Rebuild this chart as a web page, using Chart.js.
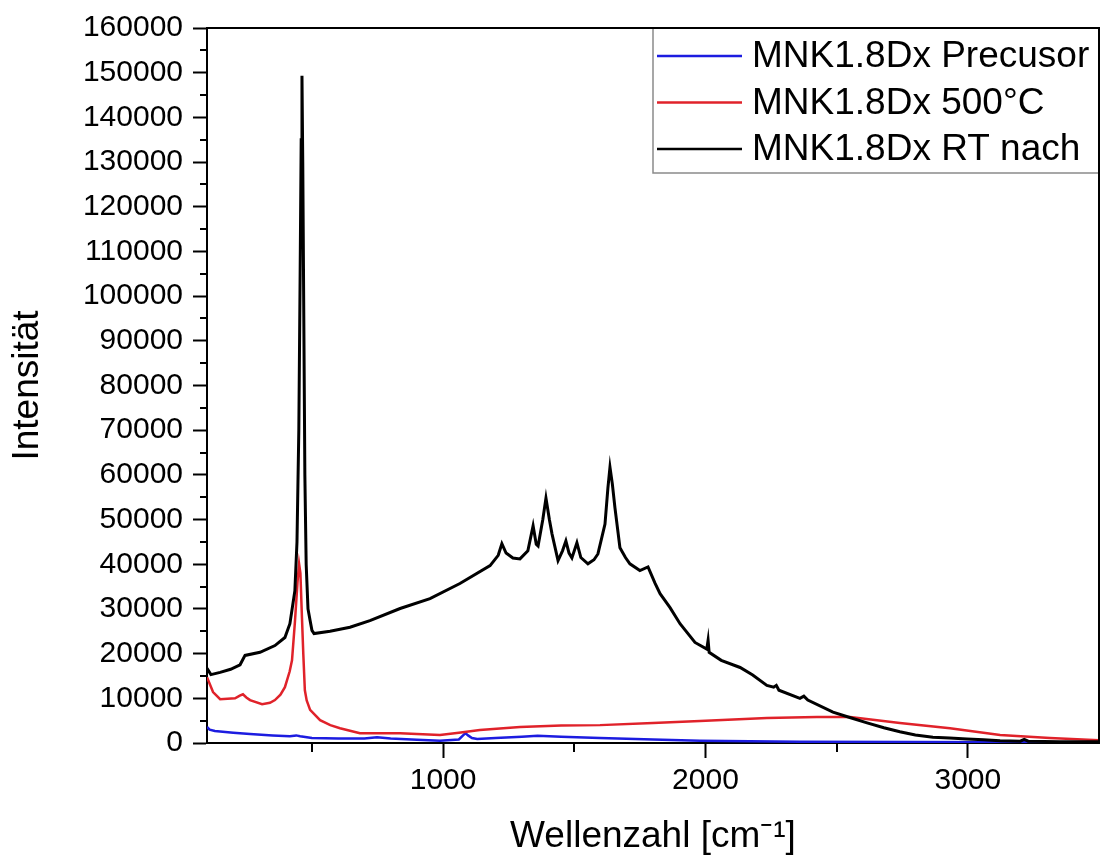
<!DOCTYPE html>
<html>
<head>
<meta charset="utf-8">
<script src="https://cdn.jsdelivr.net/npm/chart.js@4.4.1/dist/chart.umd.min.js"></script>
<style>
  html, body { margin: 0; padding: 0; background: #fff; }
</style>
</head>
<body>
<canvas id="myChart" width="1101" height="861"></canvas>
<script>
// Raman spectra
const seriesNames = ['MNK1.8Dx Precusor', 'MNK1.8Dx 500°C', 'MNK1.8Dx RT nach'];

const precursorX = [100, 110, 130, 200, 264, 350, 416, 440, 455, 500, 600, 700, 748, 800, 900, 988, 1060, 1085, 1095, 1110, 1130, 1200, 1300, 1360, 1450, 1598, 1800, 1979, 2360, 2800, 3200, 3500];
const precursorY = [3600, 3000, 2700, 2300, 2000, 1700, 1500, 1700, 1500, 1100, 1000, 1000, 1300, 1000, 700, 500, 800, 2200, 1700, 1100, 900, 1100, 1400, 1600, 1400, 1100, 800, 500, 300, 200, 150, 100];

const hotX = [100, 123, 150, 207, 225, 237, 250, 264, 310, 340, 359, 380, 397, 415, 424, 435, 445, 451, 456, 462, 467, 473, 480, 493, 531, 570, 607, 683, 836, 900, 988, 1060, 1140, 1293, 1450, 1598, 1800, 1979, 2234, 2425, 2551, 2741, 2932, 3123, 3313, 3500];
const hotY = [14700, 11400, 9800, 10000, 10600, 10900, 10200, 9600, 8700, 9000, 9600, 10800, 12500, 16000, 18500, 27000, 36000, 40100, 38000, 28000, 20000, 11800, 9500, 7400, 5100, 4000, 3300, 2200, 2200, 2000, 1800, 2300, 2900, 3600, 3900, 4000, 4500, 4900, 5600, 5800, 5800, 4500, 3300, 1800, 1100, 600];

const rtX = [100, 115, 150, 190, 226, 245, 302, 359, 397, 416, 435, 443, 450, 455, 459, 462, 465, 469, 473, 478, 485, 493, 500, 508, 569, 645, 721, 836, 950, 1064, 1179, 1210, 1224, 1240, 1266, 1293, 1323, 1343, 1355, 1362, 1380, 1392, 1405, 1415, 1438, 1455, 1468, 1480, 1491, 1510, 1525, 1552, 1575, 1590, 1605, 1617, 1628, 1636, 1645, 1655, 1674, 1695, 1712, 1750, 1781, 1808, 1827, 1865, 1903, 1960, 2005, 2010, 2014, 2060, 2132, 2180, 2234, 2260, 2270, 2280, 2360, 2375, 2390, 2486, 2550, 2616, 2680, 2741, 2800, 2867, 2930, 2997, 3060, 3123, 3200, 3215, 3230, 3350, 3500];
const rtY = [16700, 15300, 15800, 16500, 17500, 19600, 20300, 21800, 23600, 26700, 34100, 45000, 70000, 105000, 135000, 149300, 130000, 95000, 60000, 40000, 30000, 27400, 25200, 24500, 25000, 25900, 27400, 30100, 32300, 35700, 39700, 42000, 44600, 42500, 41400, 41200, 43000, 48600, 44500, 44100, 50000, 54800, 50000, 46800, 40800, 43000, 45200, 42500, 41400, 44800, 41500, 40100, 41000, 42300, 46000, 49000, 57000, 61700, 58000, 52600, 43700, 41500, 40100, 38600, 39400, 35700, 33400, 30300, 26700, 22500, 21000, 23000, 20300, 18500, 16900, 15200, 12900, 12500, 12900, 11800, 10000, 10500, 9600, 6900, 5700, 4500, 3400, 2500, 1800, 1300, 1100, 900, 700, 500, 400, 800, 400, 300, 300];

const xTicks = [1000, 2000, 3000];
const xMinorTicks = [500, 1500, 2500];
const yMinorTicks = [5000, 15000, 25000, 35000, 45000, 55000, 65000, 75000, 85000, 95000, 105000, 115000, 125000, 135000, 145000, 155000];

const colors = ['#1c1ce0', '#e0222a', '#000000'];
const lineWidths = [2.5, 2.5, 3];
const fontFamily = '"Liberation Sans", Arial, sans-serif';

function toPoints(xs, ys) {
  return xs.map((x, i) => ({ x: x, y: ys[i] }));
}

// minor ticks, top/right frame and the legend box
const decorations = {
  id: 'decorations',
  afterDraw(chart) {
    const { ctx, chartArea } = chart;
    const xs = chart.scales.x, ys = chart.scales.y;
    ctx.save();
    ctx.strokeStyle = '#000';
    ctx.lineWidth = 2;
    ctx.beginPath();
    yMinorTicks.forEach(v => {
      const p = Math.round(ys.getPixelForValue(v));
      ctx.moveTo(chartArea.left - 7, p);
      ctx.lineTo(chartArea.left, p);
    });
    xMinorTicks.forEach(v => {
      const p = Math.round(xs.getPixelForValue(v));
      ctx.moveTo(p, chartArea.bottom);
      ctx.lineTo(p, chartArea.bottom + 9);
    });
    ctx.stroke();

    // legend
    const lx = chartArea.right - 446, ly = chartArea.top, lw = 446, lh = 145;
    ctx.fillStyle = '#fff';
    ctx.fillRect(lx, ly, lw, lh);
    ctx.strokeStyle = '#8a8a8a';
    ctx.lineWidth = 1.5;
    ctx.strokeRect(lx, ly, lw, lh);
    ctx.font = '37px ' + fontFamily;
    ctx.textBaseline = 'middle';
    ctx.textAlign = 'left';
    seriesNames.forEach((name, i) => {
      const yy = ly + 28 + i * 46.5;
      ctx.strokeStyle = colors[i];
      ctx.lineWidth = 2.5;
      ctx.beginPath();
      ctx.moveTo(lx + 4, yy);
      ctx.lineTo(lx + 89, yy);
      ctx.stroke();
      ctx.fillStyle = '#000';
      ctx.fillText(name, lx + 99, yy + 1);
    });

    // frame top and right
    ctx.strokeStyle = '#000';
    ctx.lineWidth = 2;
    ctx.beginPath();
    ctx.moveTo(chartArea.left, chartArea.top);
    ctx.lineTo(chartArea.right, chartArea.top);
    ctx.lineTo(chartArea.right, chartArea.bottom);
    ctx.stroke();
    ctx.restore();
  }
};

const chart = new Chart(document.getElementById('myChart'), {
  type: 'scatter',
  data: {
    datasets: [
      { label: seriesNames[0], data: toPoints(precursorX, precursorY), borderColor: colors[0], borderWidth: lineWidths[0], order: 3 },
      { label: seriesNames[1], data: toPoints(hotX, hotY), borderColor: colors[1], borderWidth: lineWidths[1], order: 2 },
      { label: seriesNames[2], data: toPoints(rtX, rtY), borderColor: colors[2], borderWidth: lineWidths[2], order: 1 }
    ]
  },
  options: {
    responsive: false,
    animation: false,
    devicePixelRatio: 1,
    showLine: true,
    datasets: {
      scatter: { showLine: true, pointRadius: 0, tension: 0 }
    },
    layout: { padding: { top: 23, right: 2, left: 0, bottom: 0 } },
    plugins: {
      legend: { display: false },
      tooltip: { enabled: false }
    },
    scales: {
      x: {
        type: 'linear',
        min: 100,
        max: 3500,
        afterBuildTicks: s => { s.ticks = xTicks.map(v => ({ value: v })); },
        afterFit: s => { s.height = 118; },
        ticks: {
          color: '#000',
          font: { size: 30, family: fontFamily },
          padding: 5,
          maxRotation: 0,
          callback: v => String(v)
        },
        grid: { drawOnChartArea: false, tickLength: 15, tickWidth: 2, tickColor: '#000' },
        border: { color: '#000', width: 2 },
        title: {
          display: true,
          text: 'Wellenzahl [cm⁻¹]',
          color: '#000',
          font: { size: 37, family: fontFamily },
          padding: { top: 0, bottom: 2 }
        }
      },
      y: {
        min: 0,
        max: 160000,
        afterFit: s => { s.width = 207; },
        ticks: {
          stepSize: 10000,
          color: '#000',
          font: { size: 30, family: fontFamily },
          padding: 10,
          callback: v => String(v)
        },
        grid: { drawOnChartArea: false, tickLength: 14, tickWidth: 2, tickColor: '#000' },
        border: { color: '#000', width: 2 },
        title: {
          display: true,
          text: 'Intensität',
          color: '#000',
          font: { size: 37, family: fontFamily },
          padding: { top: 6, bottom: 0 }
        }
      }
    }
  },
  plugins: [decorations]
});
</script>
</body>
</html>
